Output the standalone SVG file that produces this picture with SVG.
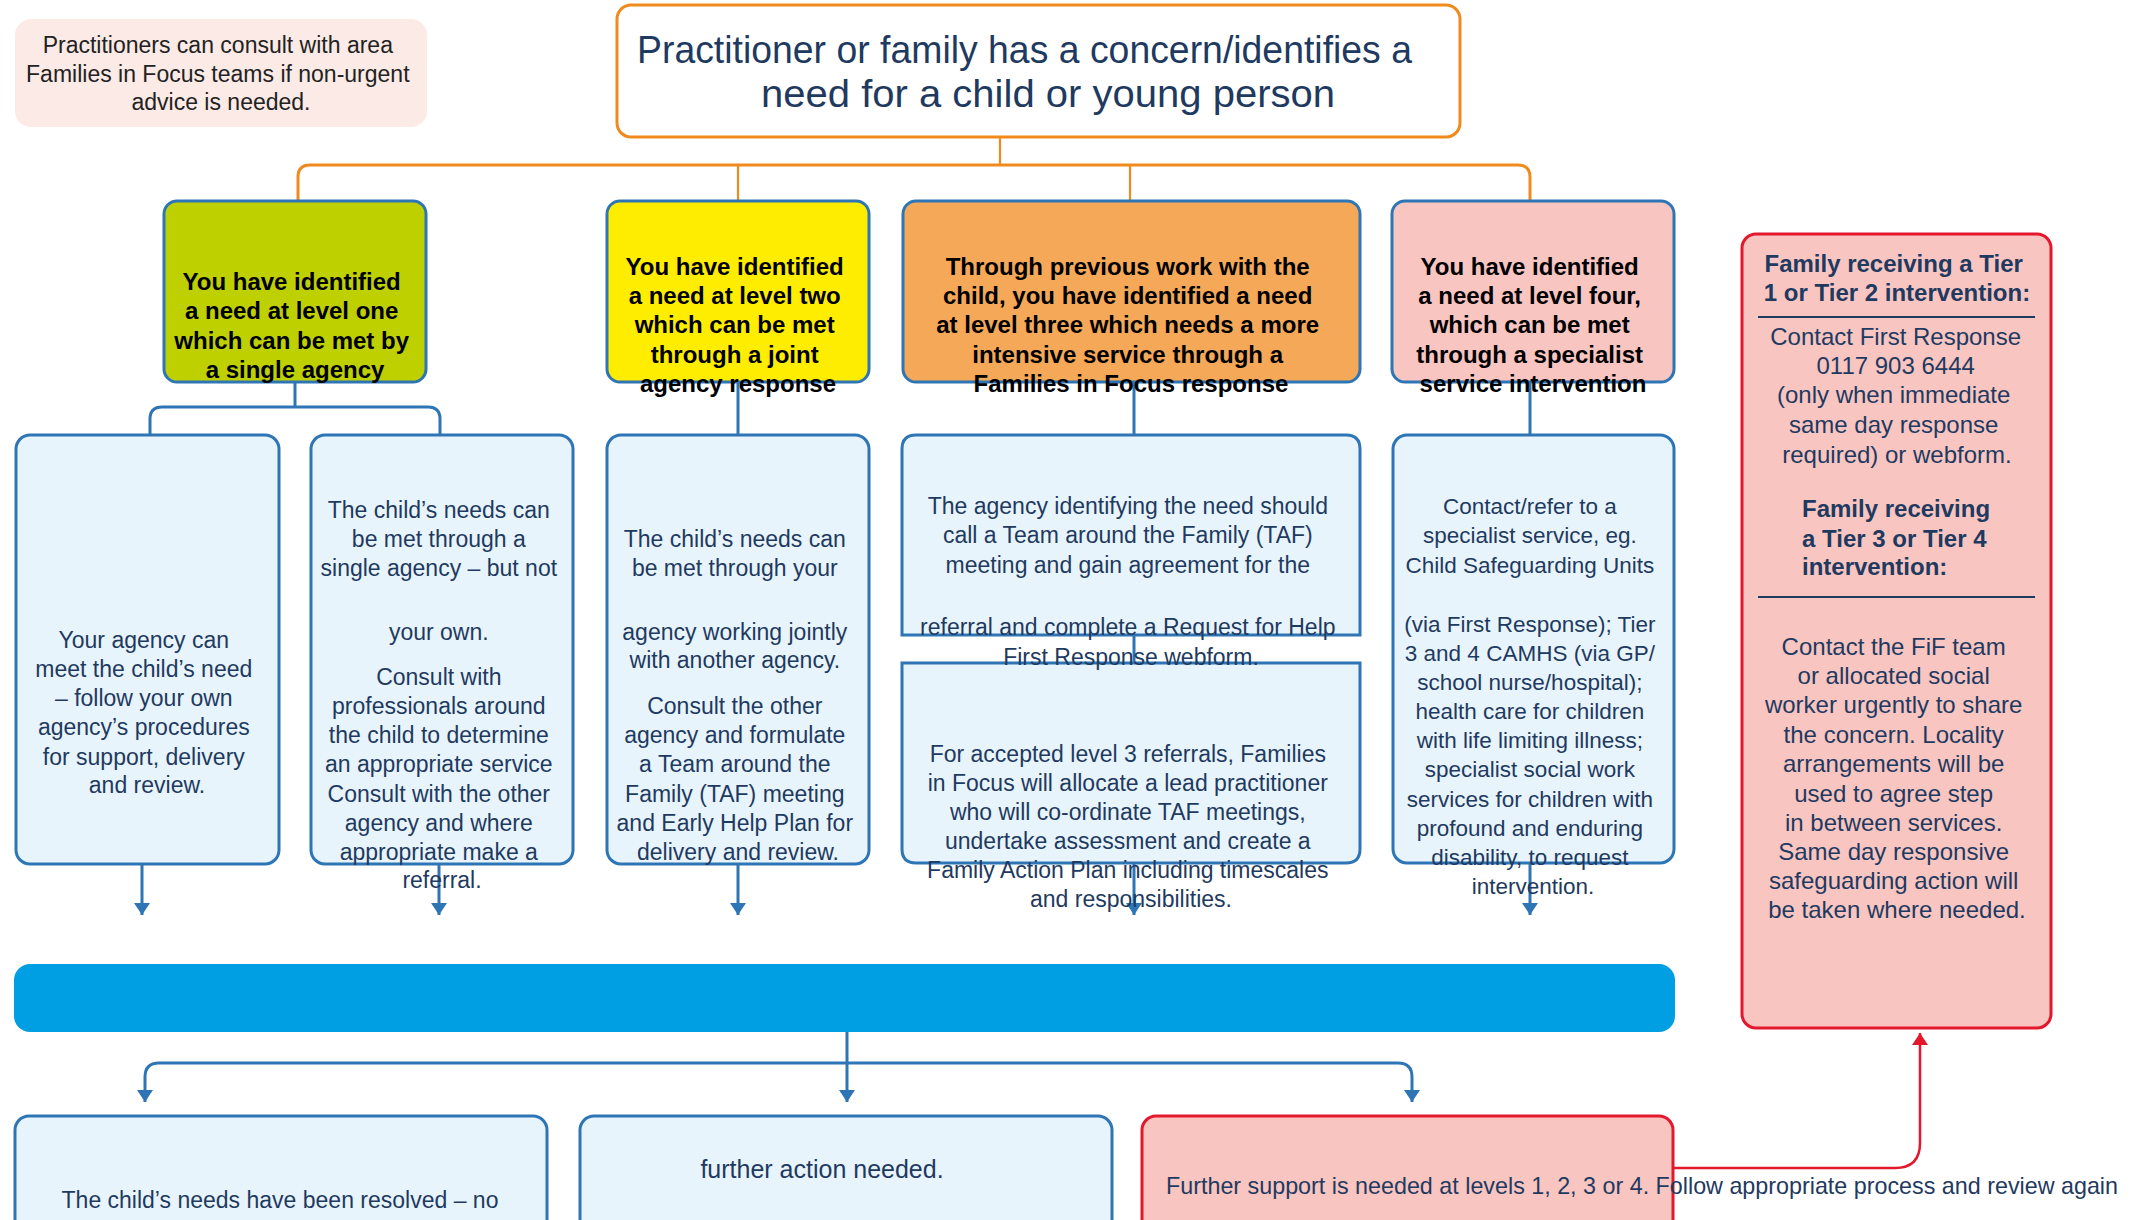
<svg xmlns="http://www.w3.org/2000/svg" width="2134" height="1220" viewBox="0 0 2134 1220">
<style>
.box{fill:#E8F4FC;stroke:#2E75B6;stroke-width:3}
.lvl{stroke:#2E75B6;stroke-width:3}
.t{font-family:"Liberation Sans",Arial,sans-serif;font-size:23px;fill:#1F3A60;text-anchor:middle}
.tf{font-family:"Liberation Sans",Arial,sans-serif;font-size:24px;fill:#1F3A60;text-anchor:middle}
.tb{font-family:"Liberation Sans",Arial,sans-serif;font-size:24px;font-weight:bold;fill:#1F3A60}
.b{font-family:"Liberation Sans",Arial,sans-serif;font-size:24px;font-weight:bold;fill:#000;text-anchor:middle}
.blue{fill:none;stroke:#2E75B6;stroke-width:3}
.org{fill:none;stroke:#F08A1C;stroke-width:3}
.orgt{fill:none;stroke:#F08A1C;stroke-width:2.2}
.red{fill:none;stroke:#E3182D;stroke-width:2.5}
</style>
<defs>
<marker id="ab" viewBox="0 0 12 16" refX="12" refY="8" markerWidth="12" markerHeight="16" markerUnits="userSpaceOnUse" orient="auto"><path d="M0,0 L12,8 L0,16 z" fill="#2E75B6"/></marker>
<marker id="ar" viewBox="0 0 12 16" refX="12" refY="8" markerWidth="12" markerHeight="16" markerUnits="userSpaceOnUse" orient="auto"><path d="M0,0 L12,8 L0,16 z" fill="#E3182D"/></marker>
</defs>
<rect width="2134" height="1220" fill="#fff"/>

<g id="connectors">
<path class="orgt" d="M1000,137 V165"/>
<path class="org" d="M298,201 V177 Q298,165 310,165 H1518 Q1530,165 1530,177 V201"/>
<path class="orgt" d="M738,165 V201"/>
<path class="orgt" d="M1130,165 V201"/>
<path class="blue" d="M295,382 V407"/>
<path class="blue" d="M150,435 V419 Q150,407 162,407 H428 Q440,407 440,419 V435"/>
<path class="blue" d="M738,382 V435"/>
<path class="blue" d="M1134,382 V435"/>
<path class="blue" d="M1530,382 V435"/>
<path class="blue" d="M1134,635 V663"/>
<path class="blue" d="M142,864 V915" marker-end="url(#ab)"/>
<path class="blue" d="M439,864 V915" marker-end="url(#ab)"/>
<path class="blue" d="M738,864 V915" marker-end="url(#ab)"/>
<path class="blue" d="M1134,863 V915" marker-end="url(#ab)"/>
<path class="blue" d="M1530,863 V915" marker-end="url(#ab)"/>
<path class="blue" d="M847,1032 V1102" marker-end="url(#ab)"/>
<path class="blue" d="M847,1063 H159 Q145,1063 145,1077 V1102" marker-end="url(#ab)"/>
<path class="blue" d="M847,1063 H1398 Q1412,1063 1412,1077 V1102" marker-end="url(#ab)"/>
<path class="red" d="M1673,1168 H1895 Q1920,1168 1920,1143 V1033" marker-end="url(#ar)"/>
</g>

<g id="note">
<rect x="15" y="19" width="412" height="108" rx="16" fill="#FCEAE6"/>
<text style="font-family:'Liberation Sans',Arial,sans-serif;font-size:23px;fill:#222;text-anchor:middle">
<tspan x="221" y="53">Practitioners can consult with area</tspan>
<tspan x="221" y="82">Families in Focus teams if non-urgent</tspan>
<tspan x="221" y="110">advice is needed.</tspan>
</text>
</g>

<g id="concern">
<rect x="617" y="5" width="843" height="132" rx="14" fill="#fff" stroke="#F08A1C" stroke-width="3"/>
<text style="font-family:'Liberation Sans',Arial,sans-serif;font-size:38px;fill:#1F3A60">
<tspan x="637" y="63" textLength="775" lengthAdjust="spacingAndGlyphs">Practitioner or family has a concern/identifies a</tspan>
<tspan x="761" y="107" textLength="574" lengthAdjust="spacingAndGlyphs">need for a child or young person</tspan>
</text>
</g>

<g id="level1">
<rect class="lvl" x="164" y="201" width="262" height="181" rx="13" fill="#BFD000"/>
<text class="b">
<tspan x="295" y="290">You have identified</tspan>
<tspan x="295" y="319">a need at level one</tspan>
<tspan x="295" y="349">which can be met by</tspan>
<tspan x="295" y="378">a single agency</tspan>
</text>
</g>

<g id="level2">
<rect class="lvl" x="607" y="201" width="262" height="181" rx="13" fill="#FFED00"/>
<text class="b">
<tspan x="738" y="275">You have identified</tspan>
<tspan x="738" y="304">a need at level two</tspan>
<tspan x="738" y="333">which can be met</tspan>
<tspan x="738" y="363">through a joint</tspan>
<tspan x="738" y="392">agency response</tspan>
</text>
</g>

<g id="level3">
<rect class="lvl" x="903" y="201" width="457" height="181" rx="13" fill="#F5A857"/>
<text class="b">
<tspan x="1131" y="275">Through previous work with the</tspan>
<tspan x="1131" y="304">child, you have identified a need</tspan>
<tspan x="1131" y="333">at level three which needs a more</tspan>
<tspan x="1131" y="363">intensive service through a</tspan>
<tspan x="1131" y="392">Families in Focus response</tspan>
</text>
</g>

<g id="level4">
<rect class="lvl" x="1392" y="201" width="282" height="181" rx="13" fill="#F8C5C1"/>
<text class="b">
<tspan x="1533" y="275">You have identified</tspan>
<tspan x="1533" y="304">a need at level four,</tspan>
<tspan x="1533" y="333">which can be met</tspan>
<tspan x="1533" y="363">through a specialist</tspan>
<tspan x="1533" y="392">service intervention</tspan>
</text>
</g>

<g id="single-own">
<rect class="box" x="16" y="435" width="263" height="429" rx="14"/>
<text class="t">
<tspan x="147" y="648">Your agency can</tspan>
<tspan x="147" y="677">meet the child’s need</tspan>
<tspan x="147" y="706">– follow your own</tspan>
<tspan x="147" y="735">agency’s procedures</tspan>
<tspan x="147" y="765">for support, delivery</tspan>
<tspan x="147" y="793">and review.</tspan>
</text>
</g>

<g id="single-other">
<rect class="box" x="311" y="435" width="262" height="429" rx="14"/>
<text class="t">
<tspan x="442" y="518">The child’s needs can</tspan>
<tspan x="442" y="547">be met through a</tspan>
<tspan x="442" y="576">single agency – but not</tspan>
<tspan x="442" y="640">your own.</tspan>
<tspan x="442" y="685">Consult with</tspan>
<tspan x="442" y="714">professionals around</tspan>
<tspan x="442" y="743">the child to determine</tspan>
<tspan x="442" y="772">an appropriate service</tspan>
<tspan x="442" y="802">Consult with the other</tspan>
<tspan x="442" y="831">agency and where</tspan>
<tspan x="442" y="860">appropriate make a</tspan>
<tspan x="442" y="888">referral.</tspan>
</text>
</g>

<g id="joint">
<rect class="box" x="607" y="435" width="262" height="429" rx="14"/>
<text class="t">
<tspan x="738" y="547">The child’s needs can</tspan>
<tspan x="738" y="576">be met through your</tspan>
<tspan x="738" y="640">agency working jointly</tspan>
<tspan x="738" y="668">with another agency.</tspan>
<tspan x="738" y="714">Consult the other</tspan>
<tspan x="738" y="743">agency and formulate</tspan>
<tspan x="738" y="772">a Team around the</tspan>
<tspan x="738" y="802">Family (TAF) meeting</tspan>
<tspan x="738" y="831">and Early Help Plan for</tspan>
<tspan x="738" y="860">delivery and review.</tspan>
</text>
</g>

<g id="fif-allocate">
<path class="box" d="M902,663 H1360 V849 Q1360,863 1346,863 H916 Q902,863 902,849 Z"/>
<text class="t">
<tspan x="1131" y="762">For accepted level 3 referrals, Families</tspan>
<tspan x="1131" y="791">in Focus will allocate a lead practitioner</tspan>
<tspan x="1131" y="820">who will co-ordinate TAF meetings,</tspan>
<tspan x="1131" y="849">undertake assessment and create a</tspan>
<tspan x="1131" y="878">Family Action Plan including timescales</tspan>
<tspan x="1131" y="907">and responsibilities.</tspan>
</text>
</g>

<g id="taf-call">
<path class="box" d="M902,635 V449 Q902,435 916,435 H1346 Q1360,435 1360,449 V635 Z"/>
<text class="t">
<tspan x="1131" y="514">The agency identifying the need should</tspan>
<tspan x="1131" y="543">call a Team around the Family (TAF)</tspan>
<tspan x="1131" y="573">meeting and gain agreement for the</tspan>
<tspan x="1131" y="635">referral and complete a Request for Help</tspan>
<tspan x="1131" y="665">First Response webform.</tspan>
</text>
</g>

<g id="specialist">
<rect class="box" x="1393" y="435" width="281" height="428" rx="14"/>
<text class="t" style="font-size:22.5px">
<tspan x="1533" y="514">Contact/refer to a</tspan>
<tspan x="1533" y="543">specialist service, eg.</tspan>
<tspan x="1533" y="573">Child Safeguarding Units</tspan>
<tspan x="1533" y="632">(via First Response); Tier</tspan>
<tspan x="1533" y="661">3 and 4 CAMHS (via GP/</tspan>
<tspan x="1533" y="690">school nurse/hospital);</tspan>
<tspan x="1533" y="719">health care for children</tspan>
<tspan x="1533" y="748">with life limiting illness;</tspan>
<tspan x="1533" y="777">specialist social work</tspan>
<tspan x="1533" y="807">services for children with</tspan>
<tspan x="1533" y="836">profound and enduring</tspan>
<tspan x="1533" y="865">disability, to request</tspan>
<tspan x="1533" y="894">intervention.</tspan>
</text>
</g>

<g id="review-bar">
<rect x="14" y="964" width="1661" height="68" rx="16" fill="#009FE3"/>
</g>

<g id="resolved">
<rect class="box" x="15" y="1116" width="532" height="130" rx="14"/>
<text class="t"><tspan x="280" y="1208">The child’s needs have been resolved – no</tspan></text>
</g>

<g id="no-further">
<rect class="box" x="580" y="1116" width="532" height="130" rx="14"/>
<text class="t" style="font-size:25px"><tspan x="822" y="1178">further action needed.</tspan></text>
</g>

<g id="further-support">
<rect x="1142" y="1116" width="531" height="130" rx="14" fill="#F8C5C1" stroke="#E3182D" stroke-width="3"/>
<text class="t" style="text-anchor:start;font-size:24px"><tspan x="1166" y="1194" textLength="952" lengthAdjust="spacingAndGlyphs">Further support is needed at levels 1, 2, 3 or 4. Follow appropriate process and review again</tspan></text>
</g>

<g id="fif-tiers">
<rect x="1742" y="234" width="309" height="794" rx="14" fill="#F8C5C1" stroke="#E3182D" stroke-width="3"/>
<text class="tb" style="text-anchor:middle">
<tspan x="1897" y="272">Family receiving a Tier</tspan>
<tspan x="1897" y="301">1 or Tier 2 intervention:</tspan>
</text>
<line x1="1758" y1="317" x2="2035" y2="317" stroke="#1F3A60" stroke-width="2"/>
<text class="tf">
<tspan x="1899" y="345">Contact First Response</tspan>
<tspan x="1899" y="374">0117 903 6444</tspan>
<tspan x="1897" y="403">(only when immediate</tspan>
<tspan x="1897" y="433">same day response</tspan>
<tspan x="1897" y="463">required) or webform.</tspan>
</text>
<text class="tb">
<tspan x="1802" y="517">Family receiving</tspan>
<tspan x="1802" y="547">a Tier 3 or Tier 4</tspan>
<tspan x="1802" y="575">intervention:</tspan>
</text>
<line x1="1758" y1="597" x2="2035" y2="597" stroke="#1F3A60" stroke-width="2"/>
<text class="tf">
<tspan x="1897" y="655">Contact the FiF team</tspan>
<tspan x="1897" y="684">or allocated social</tspan>
<tspan x="1897" y="713">worker urgently to share</tspan>
<tspan x="1897" y="743">the concern. Locality</tspan>
<tspan x="1897" y="772">arrangements will be</tspan>
<tspan x="1897" y="802">used to agree step</tspan>
<tspan x="1897" y="831">in between services.</tspan>
<tspan x="1897" y="860">Same day responsive</tspan>
<tspan x="1897" y="889">safeguarding action will</tspan>
<tspan x="1897" y="918">be taken where needed.</tspan>
</text>
</g>
</svg>
